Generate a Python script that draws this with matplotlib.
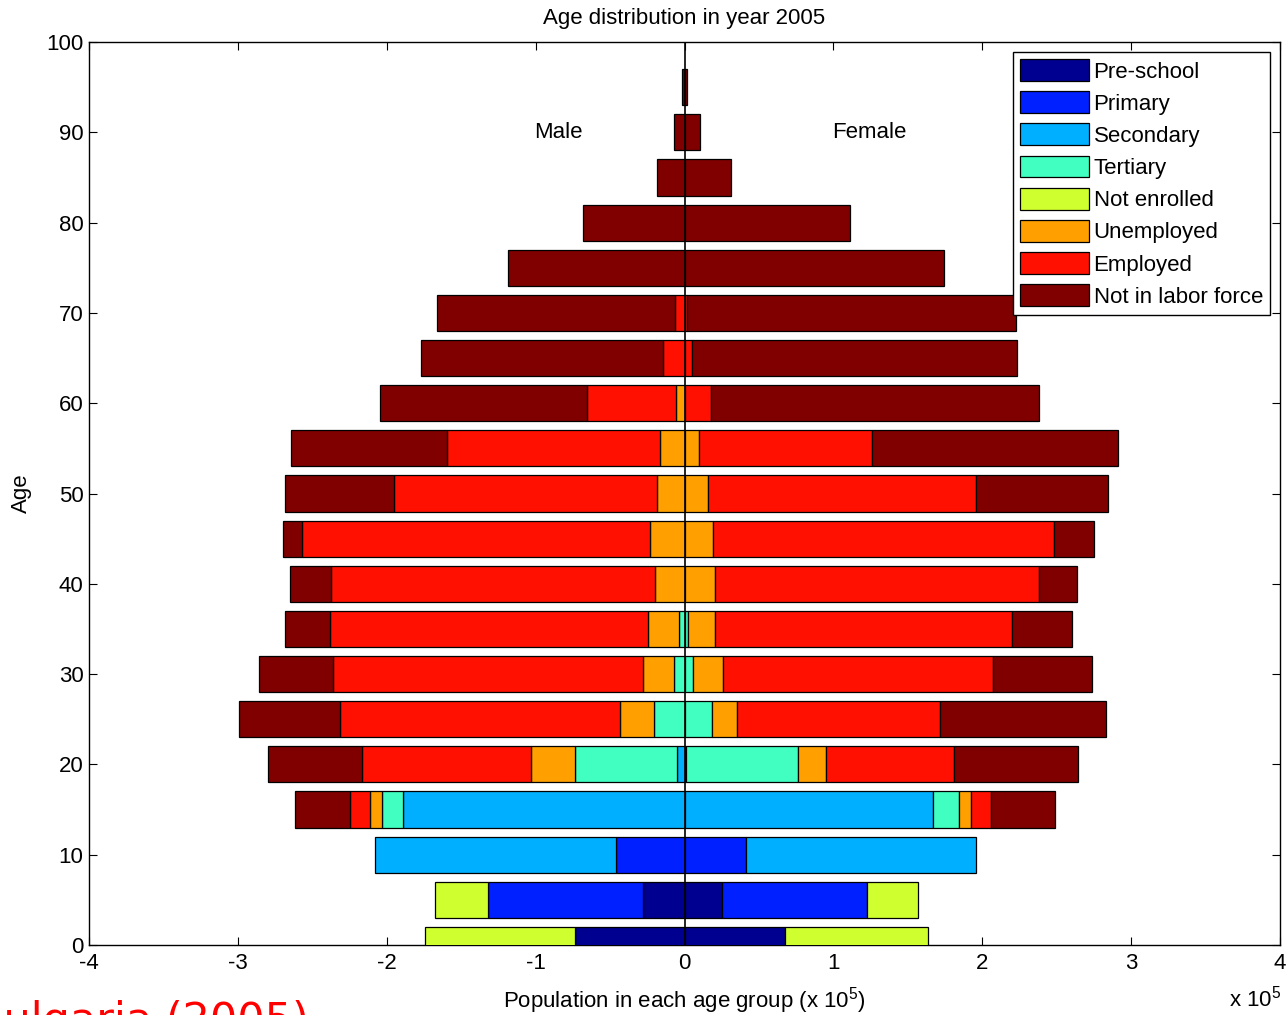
import numpy as np
import matplotlib
matplotlib.use("Agg")
import matplotlib.pyplot as plt
from matplotlib.patches import Patch

plt.rcParams["font.family"] = ["Liberation Sans", "DejaVu Sans"]
plt.rcParams["mathtext.default"] = "regular"

# Age group centres (5-year groups)
ages = np.arange(0, 100, 5)

categories = ["Pre-school", "Primary", "Secondary", "Tertiary",
              "Not enrolled", "Unemployed", "Employed", "Not in labor force"]
colors = ["#000090", "#0020FF", "#00AFFF", "#40FFC0",
          "#D0FF30", "#FFA000", "#FF1000", "#800000"]

# Population per category, in units of 10^5
# ages:               0      5      10     15     20     25     30     35     40     45     50     55     60     65     70     75     80     85     90     95
male_preschool   = [0.735, 0.277, 0,     0,     0,     0,     0,     0,     0,     0,     0,     0,     0,     0,     0,     0,     0,     0,     0,     0]
male_primary     = [0,     1.043, 0.460, 0,     0,     0,     0,     0,     0,     0,     0,     0,     0,     0,     0,     0,     0,     0,     0,     0]
male_secondary   = [0,     0,     1.619, 1.893, 0.048, 0,     0,     0,     0,     0,     0,     0,     0,     0,     0,     0,     0,     0,     0,     0]
male_tertiary    = [0,     0,     0,     0.136, 0.685, 0.207, 0.071, 0.037, 0,     0,     0,     0,     0,     0,     0,     0,     0,     0,     0,     0]
male_notenrolled = [1.008, 0.356, 0,     0,     0,     0,     0,     0,     0,     0,     0,     0,     0,     0,     0,     0,     0,     0,     0,     0]
male_unemployed  = [0,     0,     0,     0.081, 0.300, 0.228, 0.206, 0.206, 0.196, 0.230, 0.185, 0.163, 0.059, 0,     0,     0,     0,     0,     0,     0]
male_employed    = [0,     0,     0,     0.137, 1.133, 1.881, 2.086, 2.140, 2.178, 2.338, 1.764, 1.430, 0.598, 0.142, 0.064, 0,     0,     0,     0,     0]
male_nilf        = [0,     0,     0,     0.369, 0.633, 0.678, 0.493, 0.300, 0.275, 0.128, 0.734, 1.048, 1.386, 1.626, 1.601, 1.183, 0.680, 0.185, 0.070, 0.015]

female_preschool   = [0.675, 0.255, 0,     0,     0,     0,     0,     0,     0,     0,     0,     0,     0,     0,     0,     0,     0,     0,     0,     0]
female_primary     = [0,     0.971, 0.410, 0,     0,     0,     0,     0,     0,     0,     0,     0,     0,     0,     0,     0,     0,     0,     0,     0]
female_secondary   = [0,     0,     1.548, 1.671, 0.010, 0,     0,     0,     0,     0,     0,     0,     0,     0,     0,     0,     0,     0,     0,     0]
female_tertiary    = [0,     0,     0,     0.173, 0.754, 0.183, 0.055, 0.022, 0,     0,     0,     0,     0,     0,     0,     0,     0,     0,     0,     0]
female_notenrolled = [0.960, 0.341, 0,     0,     0,     0,     0,     0,     0,     0,     0,     0,     0,     0,     0,     0,     0,     0,     0,     0]
female_unemployed  = [0,     0,     0,     0.081, 0.184, 0.170, 0.206, 0.181, 0.203, 0.193, 0.158, 0.099, 0,     0,     0,     0,     0,     0,     0,     0]
female_employed    = [0,     0,     0,     0.137, 0.860, 1.363, 1.813, 1.994, 2.178, 2.291, 1.798, 1.158, 0.180, 0.052, 0.020, 0,     0,     0,     0,     0]
female_nilf        = [0,     0,     0,     0.428, 0.837, 1.113, 0.665, 0.403, 0.253, 0.266, 0.886, 1.654, 2.203, 2.181, 2.204, 1.745, 1.113, 0.312, 0.105, 0.015]

male = [male_preschool, male_primary, male_secondary, male_tertiary,
        male_notenrolled, male_unemployed, male_employed, male_nilf]
female = [female_preschool, female_primary, female_secondary, female_tertiary,
          female_notenrolled, female_unemployed, female_employed, female_nilf]

xticks = [-4, -3, -2, -1, 0, 1, 2, 3, 4]
yticks = list(range(0, 101, 10))

FS = 16
W, H = 1287, 1015
fig = plt.figure(figsize=(W / 100, H / 100), dpi=100)
ax = fig.add_axes([89 / W, 70 / H, 1191 / W, 903 / H])

# stacked bars, outward from the centre line
left_m = np.zeros(len(ages))
left_f = np.zeros(len(ages))
for vals_m, vals_f, col in zip(male, female, colors):
    vm = np.array(vals_m)
    vf = np.array(vals_f)
    mask_m = vm > 0
    mask_f = vf > 0
    ax.barh(ages[mask_m], -vm[mask_m], left=-left_m[mask_m], height=4,
            color=col, edgecolor="black", linewidth=0.9, zorder=3)
    ax.barh(ages[mask_f], vf[mask_f], left=left_f[mask_f], height=4,
            color=col, edgecolor="black", linewidth=0.9, zorder=3)
    left_m += vm
    left_f += vf

ax.axvline(0, color="black", linewidth=1.2, zorder=4)

ax.set_xlim(-4, 4)
ax.set_ylim(0, 100)
ax.set_xticks(xticks)
ax.set_xticklabels([str(t) for t in xticks])
ax.set_yticks(yticks)
ax.tick_params(direction="in", top=True, right=True, length=6, width=0.8,
               labelsize=FS)
ax.tick_params(axis="x", pad=6)
ax.tick_params(axis="y", pad=4)
for sp in ax.spines.values():
    sp.set_linewidth(1.0)

ax.text(-0.85, 90, "Male", ha="center", va="center", fontsize=FS)
ax.text(1.24, 90, "Female", ha="center", va="center", fontsize=FS)

ax.set_title("Age distribution in year 2005", fontsize=FS, pad=13)
ax.set_xlabel("Population in each age group (x 10$^{5}$)", fontsize=FS, labelpad=8)
ax.set_ylabel("Age", fontsize=FS, labelpad=10)

fig.text(1229 / W, 8 / H, "x 10$^{5}$", fontsize=FS, ha="left", va="baseline")

handles = [Patch(facecolor=c, edgecolor="black", linewidth=0.9) for c in colors]
leg = ax.legend(handles, categories, loc="upper right", fontsize=FS,
                handlelength=3.1, handleheight=1.14, labelspacing=0.39,
                handletextpad=0.22, borderpad=0.32, borderaxespad=0.45,
                fancybox=False, framealpha=1, edgecolor="black")
leg.get_frame().set_linewidth(1.0)
leg.set_zorder(5)

fig.text(-26 / W, (H - 1033) / H, "Bulgaria (2005)", color="red", fontsize=31,
         family="DejaVu Sans", ha="left", va="baseline")

fig.savefig("out.png", dpi=100, facecolor="white")
